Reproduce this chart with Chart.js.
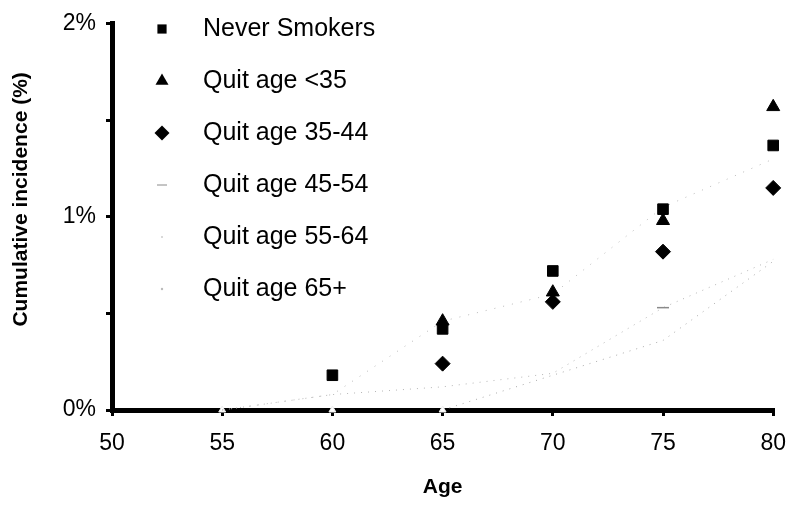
<!DOCTYPE html>
<html>
<head>
<meta charset="utf-8">
<script src="https://cdn.jsdelivr.net/npm/chart.js@4"></script>
<style>
  html, body { margin: 0; padding: 0; background: #fff; }
  #wrap { width: 800px; height: 505px; }
</style>
</head>
<body>
<div id="wrap"><canvas id="myChart" width="800" height="505"></canvas></div>
<script>
// ages on the x axis
var ages = [50, 55, 60, 65, 70, 75, 80];

// cumulative incidence (%)
var neverSmokers = [null, null, 0.18, 0.42, 0.72, 1.04, 1.37];
var quitUnder35  = [null, null, null, 0.46, 0.61, 0.98, 1.57];
var quit35to44   = [null, null, null, 0.24, 0.56, 0.82, 1.15];
var quit45to54   = [0, 0, 0.08, 0.12, 0.19, 0.53, 0.78];
var quit55to64   = [0, 0, 0.08, 0.46, 0.60, 1.05, 1.30];
var quit65plus   = [0, 0, 0, 0, 0.18, 0.36, 0.77];

var seriesLabels = [
    "Never Smokers",
    "Quit age <35",
    "Quit age 35-44",
    "Quit age 45-54",
    "Quit age 55-64",
    "Quit age 65+"
];

var yTicks = [0, 1, 2]; // labelled ticks, in %

function pts(values) {
    return ages.map(function (a, i) { return { x: a, y: values[i] }; });
}

// hide the dotted line where it would run along the x axis
var hideOnAxis = {
    borderColor: function (c) {
        return (c.p0.parsed.y === 0 && c.p1.parsed.y === 0) ? 'rgba(0,0,0,0)' : undefined;
    }
};

var font = "'Liberation Sans', Arial, sans-serif";

var data = {
    datasets: [{
        label: seriesLabels[0],
        data: pts(neverSmokers),
        showLine: false,
        pointStyle: 'rect',
        pointRadius: 7.5,
        backgroundColor: '#000',
        borderColor: '#000',
        legendRadius: 6.5
    }, {
        label: seriesLabels[1],
        data: pts(quitUnder35),
        showLine: false,
        pointStyle: 'triangle',
        pointRadius: 7.5,
        backgroundColor: '#000',
        borderColor: '#000',
        legendRadius: 7.5
    }, {
        label: seriesLabels[2],
        data: pts(quit35to44),
        showLine: false,
        pointStyle: 'rectRot',
        pointRadius: 7.5,
        backgroundColor: '#000',
        borderColor: '#000',
        legendRadius: 7.5
    }, {
        label: seriesLabels[3],
        data: pts(quit45to54),
        showLine: true,
        segment: hideOnAxis,
        borderColor: '#b5b5b5',
        borderWidth: 1,
        borderDash: [1, 6],
        pointStyle: 'line',
        pointRadius: [0, 0, 0, 0, 0, 6, 0],
        pointBorderColor: '#8a8a8a',
        pointBorderWidth: 1.5,
        backgroundColor: '#999',
        legendRadius: 5
    }, {
        label: seriesLabels[4],
        data: pts(quit55to64),
        showLine: true,
        segment: hideOnAxis,
        borderColor: '#b8b8b8',
        borderWidth: 1,
        borderDash: [1, 8],
        pointStyle: 'circle',
        pointRadius: 0,
        backgroundColor: '#ccc',
        legendRadius: 1
    }, {
        label: seriesLabels[5],
        data: pts(quit65plus),
        showLine: true,
        segment: hideOnAxis,
        borderColor: '#aaaaaa',
        borderWidth: 1,
        borderDash: [1, 6],
        pointStyle: 'triangle',
        pointRadius: [0, 4, 4, 4, 0, 0, 0],
        pointBackgroundColor: '#fff',
        pointBorderColor: '#eee',
        backgroundColor: '#bbb',
        legendRadius: 1.2
    }]
};

// legend drawn inside the plot, one row per series
var insideLegend = {
    id: 'insideLegend',
    afterDraw: function (chart) {
        var ctx = chart.ctx;
        ctx.save();
        ctx.font = "25px " + font;
        ctx.textBaseline = 'middle';
        ctx.textAlign = 'left';
        chart.data.datasets.forEach(function (ds, i) {
            var y = 29 + i * 52;
            ctx.fillStyle = ds.backgroundColor;
            ctx.strokeStyle = ds.pointBorderColor || ds.backgroundColor;
            Chart.helpers.drawPoint(ctx, {
                pointStyle: i === 5 ? 'circle' : ds.pointStyle,
                radius: ds.legendRadius,
                rotation: 0,
                borderWidth: ds.pointStyle === 'line' ? 1.5 : 0
            }, 162, y);
            ctx.fillStyle = '#000';
            ctx.fillText(ds.label, 203, y);
        });
        ctx.restore();
    }
};

var ctx = document.getElementById('myChart');
new Chart(ctx, {
    type: 'scatter',
    data: data,
    plugins: [insideLegend],
    options: {
        responsive: false,
        animation: false,
        clip: false,
        layout: { padding: { left: 9, top: 20, right: 23, bottom: 0 } },
        plugins: {
            legend: { display: false },
            tooltip: { enabled: false }
        },
        scales: {
            x: {
                type: 'linear',
                min: 50,
                max: 80,
                afterFit: function (s) { s.height = 95; },
                ticks: {
                    stepSize: 5,
                    color: '#000',
                    padding: 14,
                    font: { family: font, size: 23 }
                },
                grid: {
                    drawOnChartArea: false,
                    tickLength: 6,
                    color: '#000',
                    lineWidth: 3
                },
                border: { color: '#000', width: 5 },
                title: {
                    display: true,
                    text: 'Age',
                    color: '#000',
                    padding: { top: 0, bottom: 5 },
                    font: { family: font, size: 21, weight: 'bold' }
                }
            },
            y: {
                min: 0,
                max: 2,
                afterFit: function (s) { s.width = 103; },
                ticks: {
                    stepSize: 0.5,
                    color: '#000',
                    padding: 10,
                    font: { family: font, size: 23 },
                    callback: function (v) {
                        return yTicks.indexOf(v) >= 0 ? v + '%' : '';
                    }
                },
                grid: {
                    drawOnChartArea: false,
                    tickLength: 6,
                    color: '#000',
                    lineWidth: 3
                },
                border: { color: '#000', width: 5 },
                title: {
                    display: true,
                    // leading spaces lift the rotated title a little, as in the source
                    text: '      Cumulative incidence (%)',
                    color: '#000',
                    padding: 0,
                    font: { family: font, size: 21, weight: 'bold' }
                }
            }
        }
    }
});
</script>
</body>
</html>
